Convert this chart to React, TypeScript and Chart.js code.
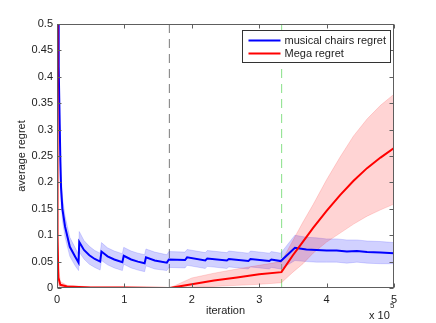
import React, { useEffect, useRef } from "react";
import { Chart, registerables } from "chart.js";

Chart.register(...registerables);

// ---------- data ----------
const xTickLabels = ["0", "1", "2", "3", "4", "5"];
const yTickLabels = ["0", "0.05", "0.1", "0.15", "0.2", "0.25", "0.3", "0.35", "0.4", "0.45", "0.5"];

const seriesNames = ["musical chairs regret", "Mega regret"];

const blueX = [0.015, 0.025, 0.04, 0.05, 0.06, 0.08, 0.12, 0.19, 0.27, 0.32,
  0.33, 0.40, 0.48, 0.56, 0.64,
  0.66, 0.75, 0.85, 0.97,
  0.99, 1.10, 1.20, 1.30,
  1.32, 1.45, 1.63,
  1.66, 1.90, 1.93, 2.20, 2.23, 2.52, 2.55, 2.84, 2.87, 3.15, 3.18, 3.32,
  3.53, 3.70, 3.85, 4.00, 4.15, 4.30, 4.45, 4.60, 4.80, 5.00];
const blueY = [0.50, 0.42, 0.31, 0.24, 0.19, 0.15, 0.116, 0.078, 0.059, 0.048,
  0.087, 0.072, 0.062, 0.055, 0.050,
  0.069, 0.060, 0.054, 0.049,
  0.061, 0.054, 0.050, 0.047,
  0.058, 0.052, 0.048,
  0.054, 0.053, 0.058, 0.052, 0.056, 0.052, 0.055, 0.051, 0.055, 0.051, 0.054, 0.051,
  0.076, 0.073, 0.072, 0.071, 0.071, 0.069, 0.070, 0.068, 0.067, 0.066];
const blueUpper = [0.55, 0.46, 0.345, 0.27, 0.215, 0.172, 0.136, 0.096, 0.076, 0.064,
  0.107, 0.090, 0.079, 0.071, 0.066,
  0.086, 0.076, 0.070, 0.065,
  0.077, 0.070, 0.066, 0.063,
  0.074, 0.068, 0.063,
  0.069, 0.068, 0.073, 0.067, 0.071, 0.067, 0.070, 0.066, 0.070, 0.066, 0.069, 0.066,
  0.100, 0.096, 0.095, 0.093, 0.093, 0.091, 0.091, 0.089, 0.088, 0.086];
const blueLower = [0.45, 0.38, 0.275, 0.21, 0.165, 0.128, 0.096, 0.060, 0.042, 0.033,
  0.068, 0.055, 0.045, 0.039, 0.034,
  0.052, 0.044, 0.038, 0.033,
  0.045, 0.038, 0.034, 0.031,
  0.042, 0.036, 0.033,
  0.039, 0.038, 0.043, 0.037, 0.041, 0.037, 0.040, 0.036, 0.040, 0.036, 0.039, 0.036,
  0.052, 0.050, 0.049, 0.049, 0.049, 0.047, 0.049, 0.047, 0.046, 0.046];

const redX = [0, 0.005, 0.01, 0.02, 0.05, 0.15, 0.5, 1.0, 1.67, 2.0, 2.33, 2.67, 3.0, 3.33,
  3.5, 3.65, 3.8, 4.0, 4.2, 4.4, 4.6, 4.8, 5.0];
const redY = [0.5, 0.35, 0.1, 0.02, 0.006, 0.003, 0.001, 0.001, 0, 0.007, 0.014, 0.020, 0.026, 0.030,
  0.062, 0.088, 0.114, 0.146, 0.176, 0.203, 0.227, 0.247, 0.265];
const redUpper = [0.5, 0.4, 0.15, 0.04, 0.012, 0.005, 0.002, 0.002, 0, 0.019, 0.028, 0.036, 0.043, 0.050,
  0.090, 0.125, 0.158, 0.205, 0.248, 0.288, 0.320, 0.346, 0.367];
const redLower = [0.5, 0.3, 0.05, 0.005, 0.001, 0.001, 0, 0, 0, 0.001, 0.003, 0.005, 0.007, 0.010,
  0.030, 0.046, 0.066, 0.087, 0.104, 0.121, 0.136, 0.148, 0.159];

const phaseX = [1.667, 3.333];

// ---------- helpers ----------
const pts = (xs: number[], ys: number[]) => xs.map((x, i) => ({ x, y: ys[i] }));
const FONT = "'Liberation Sans', Arial, Helvetica, sans-serif";

const matlabPlugin = {
  id: "matlabDecor",
  afterDatasetsDraw(chart: any) {
    const { ctx, chartArea: a, scales } = chart;
    const xs = scales.x;
    const ys = scales.y;
    ctx.save();
    // box
    ctx.strokeStyle = "#5e5e5e";
    ctx.lineWidth = 1;
    const L = Math.round(a.left) + 0.5;
    const R = Math.round(a.right) - 0.5;
    const T = Math.round(a.top) + 0.5;
    const B = Math.round(a.bottom) - 0.5;
    ctx.strokeRect(L, T, R - L, B - T);
    // inward ticks
    ctx.beginPath();
    xs.ticks.forEach((t: any) => {
      const px = Math.round(xs.getPixelForValue(t.value)) + 0.5;
      ctx.moveTo(px, B);
      ctx.lineTo(px, B - 4);
      ctx.moveTo(px, T);
      ctx.lineTo(px, T + 4);
    });
    ys.ticks.forEach((t: any) => {
      const py = Math.round(ys.getPixelForValue(t.value)) + 0.5;
      ctx.moveTo(L, py);
      ctx.lineTo(L + 4, py);
      ctx.moveTo(R, py);
      ctx.lineTo(R - 4, py);
    });
    ctx.stroke();

    // legend
    const lw = 148;
    const lh = 32;
    const lx = Math.round(a.right) - 4 - lw + 0.5;
    const ly = Math.round(a.top) + 6 + 0.5;
    ctx.fillStyle = "#ffffff";
    ctx.fillRect(lx, ly, lw, lh);
    ctx.strokeStyle = "#333333";
    ctx.strokeRect(lx, ly, lw, lh);
    const cols = ["#0000ff", "#ff0000"];
    seriesNames.forEach((name, i) => {
      const y = ly + 10 + i * 13;
      ctx.strokeStyle = cols[i];
      ctx.lineWidth = 2;
      ctx.beginPath();
      ctx.moveTo(lx + 6, y);
      ctx.lineTo(lx + 38, y);
      ctx.stroke();
      ctx.fillStyle = "#222222";
      ctx.font = `11px ${FONT}`;
      ctx.textAlign = "left";
      ctx.textBaseline = "middle";
      ctx.fillText(name, lx + 42, y);
    });

    // axis titles
    ctx.fillStyle = "#222222";
    ctx.font = `11px ${FONT}`;
    ctx.textAlign = "center";
    ctx.textBaseline = "middle";
    ctx.fillText("iteration", (a.left + a.right) / 2, a.bottom + 23);
    ctx.save();
    ctx.translate(22, (a.top + a.bottom) / 2);
    ctx.rotate(-Math.PI / 2);
    ctx.fillText("average regret", 0, 0);
    ctx.restore();
    // exponent
    ctx.textAlign = "left";
    ctx.fillText("x 10", a.right - 25, a.bottom + 28);
    ctx.font = `8px ${FONT}`;
    ctx.fillText("5", a.right - 4, a.bottom + 18);
    ctx.restore();
  },
};

export default function App() {
  const ref = useRef<HTMLCanvasElement | null>(null);

  useEffect(() => {
    if (!ref.current) return;
    const chart = new Chart(ref.current, {
      type: "line",
      data: {
        datasets: [
          {
            label: seriesNames[1],
            data: pts(redX, redY),
            borderColor: "#ff0000",
            borderWidth: 2,
            pointRadius: 0,
            fill: false,
          },
          {
            label: seriesNames[0],
            data: pts(blueX, blueY),
            borderColor: "#0000ff",
            borderWidth: 2,
            pointRadius: 0,
            fill: false,
          },
          {
            label: "red upper",
            data: pts(redX, redUpper),
            borderColor: "rgba(255,0,0,0.25)",
            borderWidth: 0.6,
            pointRadius: 0,
            backgroundColor: "rgba(255,0,0,0.17)",
            fill: { target: 3 },
          },
          {
            label: "red lower",
            data: pts(redX, redLower),
            borderColor: "rgba(255,0,0,0.25)",
            borderWidth: 0.6,
            pointRadius: 0,
            fill: false,
          },
          {
            label: "blue upper",
            data: pts(blueX, blueUpper),
            borderColor: "rgba(0,0,255,0.25)",
            borderWidth: 0.6,
            pointRadius: 0,
            backgroundColor: "rgba(0,0,255,0.18)",
            fill: { target: 5 },
          },
          {
            label: "blue lower",
            data: pts(blueX, blueLower),
            borderColor: "rgba(0,0,255,0.25)",
            borderWidth: 0.6,
            pointRadius: 0,
            fill: false,
          },
          {
            label: "phase 1",
            data: [{ x: phaseX[0], y: 0 }, { x: phaseX[0], y: 0.5 }],
            borderColor: "#7a7a7a",
            borderWidth: 1,
            borderDash: [9, 6],
            pointRadius: 0,
            fill: false,
          },
          {
            label: "phase 2",
            data: [{ x: phaseX[1], y: 0 }, { x: phaseX[1], y: 0.5 }],
            borderColor: "#88e088",
            borderWidth: 1,
            borderDash: [9, 6],
            pointRadius: 0,
            fill: false,
          },
        ],
      },
      options: {
        animation: false,
        responsive: false,
        events: [],
        layout: { padding: { left: 0, top: 24, right: 42, bottom: 0 } },
        plugins: {
          legend: { display: false },
          tooltip: { enabled: false },
        },
        elements: { line: { tension: 0 } },
        scales: {
          x: {
            type: "linear",
            min: 0,
            max: 5,
            grid: { display: false, drawTicks: false },
            border: { display: false },
            afterFit: (s: any) => { s.height = 35; },
            ticks: {
              stepSize: 1,
              padding: 5,
              color: "#222222",
              font: { family: FONT, size: 11 },
              maxRotation: 0,
              callback: (_v: any, i: number) => xTickLabels[i],
            },
          },
          y: {
            type: "linear",
            min: 0,
            max: 0.5,
            grid: { display: false, drawTicks: false },
            border: { display: false },
            afterFit: (s: any) => { s.width = 57; },
            ticks: {
              stepSize: 0.05,
              padding: 4,
              color: "#222222",
              font: { family: FONT, size: 11 },
              callback: (_v: any, i: number) => yTickLabels[i],
            },
          },
        },
      },
      plugins: [matlabPlugin],
    } as any);
    return () => chart.destroy();
  }, []);

  return (
    <div style={{ position: "fixed", left: 0, top: 0, width: 436, height: 323, background: "#fff" }}>
      <canvas ref={ref} width={436} height={323} style={{ width: 436, height: 323, display: "block" }} />
    </div>
  );
}
